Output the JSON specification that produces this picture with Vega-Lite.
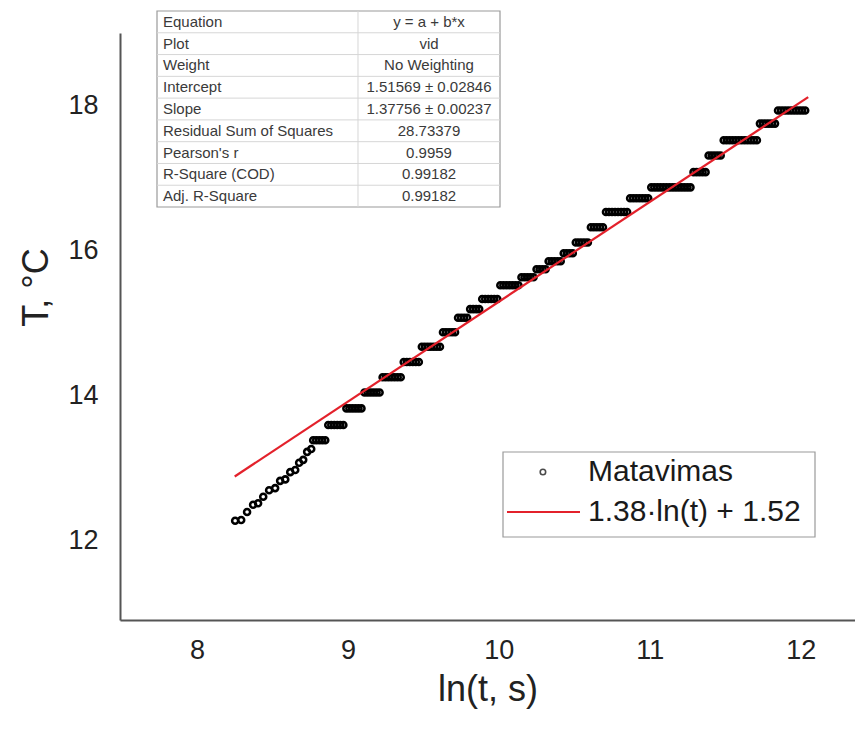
{
  "$schema": "https://vega.github.io/schema/vega-lite/v6.json",
  "width": 735,
  "height": 587,
  "autosize": {"type": "none"},
  "padding": {"left": 120, "top": 33, "right": 0, "bottom": 111},
  "background": "white",
  "config": {
    "font": "Liberation Sans",
    "view": {"stroke": null}
  },
  "datasets": {
    "meas": [
      {"lnt": 8.253, "T": 12.27}, {"lnt": 8.293, "T": 12.28}, {"lnt": 8.332, "T": 12.39}, {"lnt": 8.372, "T": 12.49},
      {"lnt": 8.405, "T": 12.51}, {"lnt": 8.439, "T": 12.60}, {"lnt": 8.478, "T": 12.69}, {"lnt": 8.518, "T": 12.72},
      {"lnt": 8.551, "T": 12.82}, {"lnt": 8.585, "T": 12.84}, {"lnt": 8.618, "T": 12.94}, {"lnt": 8.651, "T": 12.97},
      {"lnt": 8.677, "T": 13.07}, {"lnt": 8.704, "T": 13.11}, {"lnt": 8.730, "T": 13.22}, {"lnt": 8.757, "T": 13.26},
      {"lnt": 8.77, "T": 13.38}, {"lnt": 8.79, "T": 13.38}, {"lnt": 8.81, "T": 13.38}, {"lnt": 8.83, "T": 13.38}, {"lnt": 8.85, "T": 13.38},
      {"lnt": 8.87, "T": 13.59}, {"lnt": 8.89, "T": 13.59}, {"lnt": 8.91, "T": 13.59}, {"lnt": 8.93, "T": 13.59}, {"lnt": 8.95, "T": 13.59}, {"lnt": 8.97, "T": 13.59},
      {"lnt": 8.99, "T": 13.82}, {"lnt": 9.01, "T": 13.82}, {"lnt": 9.03, "T": 13.82}, {"lnt": 9.05, "T": 13.82}, {"lnt": 9.07, "T": 13.82}, {"lnt": 9.09, "T": 13.82},
      {"lnt": 9.11, "T": 14.04}, {"lnt": 9.13, "T": 14.04}, {"lnt": 9.15, "T": 14.04}, {"lnt": 9.17, "T": 14.04}, {"lnt": 9.19, "T": 14.04}, {"lnt": 9.21, "T": 14.04},
      {"lnt": 9.23, "T": 14.25}, {"lnt": 9.25, "T": 14.25}, {"lnt": 9.27, "T": 14.25}, {"lnt": 9.29, "T": 14.25}, {"lnt": 9.31, "T": 14.25}, {"lnt": 9.33, "T": 14.25}, {"lnt": 9.35, "T": 14.25},
      {"lnt": 9.37, "T": 14.46}, {"lnt": 9.39, "T": 14.46}, {"lnt": 9.41, "T": 14.46}, {"lnt": 9.43, "T": 14.46}, {"lnt": 9.45, "T": 14.46}, {"lnt": 9.47, "T": 14.46},
      {"lnt": 9.49, "T": 14.67}, {"lnt": 9.51, "T": 14.67}, {"lnt": 9.53, "T": 14.67}, {"lnt": 9.55, "T": 14.67}, {"lnt": 9.57, "T": 14.67}, {"lnt": 9.59, "T": 14.67}, {"lnt": 9.61, "T": 14.67},
      {"lnt": 9.63, "T": 14.87}, {"lnt": 9.65, "T": 14.87}, {"lnt": 9.67, "T": 14.87}, {"lnt": 9.69, "T": 14.87}, {"lnt": 9.71, "T": 14.87},
      {"lnt": 9.73, "T": 15.07}, {"lnt": 9.75, "T": 15.07}, {"lnt": 9.77, "T": 15.07}, {"lnt": 9.79, "T": 15.07},
      {"lnt": 9.81, "T": 15.19}, {"lnt": 9.83, "T": 15.19}, {"lnt": 9.85, "T": 15.19}, {"lnt": 9.87, "T": 15.19},
      {"lnt": 9.89, "T": 15.33}, {"lnt": 9.91, "T": 15.33}, {"lnt": 9.93, "T": 15.33}, {"lnt": 9.95, "T": 15.33}, {"lnt": 9.97, "T": 15.33}, {"lnt": 9.99, "T": 15.33},
      {"lnt": 10.01, "T": 15.52}, {"lnt": 10.03, "T": 15.52}, {"lnt": 10.05, "T": 15.52}, {"lnt": 10.07, "T": 15.52}, {"lnt": 10.09, "T": 15.52}, {"lnt": 10.11, "T": 15.52}, {"lnt": 10.13, "T": 15.52},
      {"lnt": 10.15, "T": 15.63}, {"lnt": 10.17, "T": 15.63}, {"lnt": 10.19, "T": 15.63}, {"lnt": 10.21, "T": 15.63}, {"lnt": 10.23, "T": 15.63},
      {"lnt": 10.25, "T": 15.74}, {"lnt": 10.27, "T": 15.74}, {"lnt": 10.29, "T": 15.74}, {"lnt": 10.31, "T": 15.74},
      {"lnt": 10.33, "T": 15.85}, {"lnt": 10.35, "T": 15.85}, {"lnt": 10.37, "T": 15.85}, {"lnt": 10.39, "T": 15.85}, {"lnt": 10.41, "T": 15.85},
      {"lnt": 10.43, "T": 15.96}, {"lnt": 10.45, "T": 15.96}, {"lnt": 10.47, "T": 15.96}, {"lnt": 10.49, "T": 15.96},
      {"lnt": 10.51, "T": 16.11}, {"lnt": 10.53, "T": 16.11}, {"lnt": 10.55, "T": 16.11}, {"lnt": 10.57, "T": 16.11}, {"lnt": 10.59, "T": 16.11},
      {"lnt": 10.61, "T": 16.32}, {"lnt": 10.63, "T": 16.32}, {"lnt": 10.65, "T": 16.32}, {"lnt": 10.67, "T": 16.32}, {"lnt": 10.69, "T": 16.32},
      {"lnt": 10.71, "T": 16.53}, {"lnt": 10.73, "T": 16.53}, {"lnt": 10.75, "T": 16.53}, {"lnt": 10.77, "T": 16.53}, {"lnt": 10.79, "T": 16.53}, {"lnt": 10.81, "T": 16.53}, {"lnt": 10.83, "T": 16.53}, {"lnt": 10.85, "T": 16.53},
      {"lnt": 10.87, "T": 16.72}, {"lnt": 10.89, "T": 16.72}, {"lnt": 10.91, "T": 16.72}, {"lnt": 10.93, "T": 16.72}, {"lnt": 10.95, "T": 16.72}, {"lnt": 10.97, "T": 16.72}, {"lnt": 10.99, "T": 16.72},
      {"lnt": 11.01, "T": 16.87}, {"lnt": 11.03, "T": 16.87}, {"lnt": 11.05, "T": 16.87}, {"lnt": 11.07, "T": 16.87}, {"lnt": 11.09, "T": 16.87}, {"lnt": 11.11, "T": 16.87}, {"lnt": 11.13, "T": 16.87},
      {"lnt": 11.15, "T": 16.87}, {"lnt": 11.17, "T": 16.87}, {"lnt": 11.19, "T": 16.87}, {"lnt": 11.21, "T": 16.87}, {"lnt": 11.23, "T": 16.87}, {"lnt": 11.25, "T": 16.87}, {"lnt": 11.27, "T": 16.87},
      {"lnt": 11.29, "T": 17.08}, {"lnt": 11.31, "T": 17.08}, {"lnt": 11.33, "T": 17.08}, {"lnt": 11.35, "T": 17.08}, {"lnt": 11.37, "T": 17.08},
      {"lnt": 11.39, "T": 17.31}, {"lnt": 11.41, "T": 17.31}, {"lnt": 11.43, "T": 17.31}, {"lnt": 11.45, "T": 17.31}, {"lnt": 11.47, "T": 17.31},
      {"lnt": 11.49, "T": 17.52}, {"lnt": 11.51, "T": 17.52}, {"lnt": 11.53, "T": 17.52}, {"lnt": 11.55, "T": 17.52}, {"lnt": 11.57, "T": 17.52}, {"lnt": 11.59, "T": 17.52},
      {"lnt": 11.61, "T": 17.52}, {"lnt": 11.63, "T": 17.52}, {"lnt": 11.65, "T": 17.52}, {"lnt": 11.67, "T": 17.52}, {"lnt": 11.69, "T": 17.52}, {"lnt": 11.71, "T": 17.52},
      {"lnt": 11.73, "T": 17.75}, {"lnt": 11.75, "T": 17.75}, {"lnt": 11.77, "T": 17.75}, {"lnt": 11.79, "T": 17.75}, {"lnt": 11.81, "T": 17.75}, {"lnt": 11.83, "T": 17.75},
      {"lnt": 11.85, "T": 17.93}, {"lnt": 11.87, "T": 17.93}, {"lnt": 11.89, "T": 17.93}, {"lnt": 11.91, "T": 17.93}, {"lnt": 11.93, "T": 17.93},
      {"lnt": 11.95, "T": 17.93}, {"lnt": 11.97, "T": 17.93}, {"lnt": 11.99, "T": 17.93}, {"lnt": 12.01, "T": 17.93}, {"lnt": 12.03, "T": 17.93}
    ],
    "fit": [
      {"lnt": 8.25, "T": 12.8806},
      {"lnt": 12.05, "T": 18.1153}
    ],
    "table": [
      {"row": 1, "name": "Equation", "value": "y = a + b*x"},
      {"row": 2, "name": "Plot", "value": "vid"},
      {"row": 3, "name": "Weight", "value": "No Weighting"},
      {"row": 4, "name": "Intercept", "value": "1.51569 ± 0.02846"},
      {"row": 5, "name": "Slope", "value": "1.37756 ± 0.00237"},
      {"row": 6, "name": "Residual Sum of Squares", "value": "28.73379"},
      {"row": 7, "name": "Pearson's r", "value": "0.9959"},
      {"row": 8, "name": "R-Square (COD)", "value": "0.99182"},
      {"row": 9, "name": "Adj. R-Square", "value": "0.99182"}
    ],
    "legend": [
      {"row": 1, "label": "Matavimas"},
      {"row": 2, "label": "1.38·ln(t) + 1.52"}
    ]
  },
  "layer": [
    {
      "encoding": {
        "x": {
          "field": "lnt",
          "type": "quantitative",
          "scale": {"domain": [7.49, 12.36], "nice": false, "zero": false},
          "axis": {
            "title": "ln(t, s)",
            "values": [8, 9, 10, 11, 12],
            "ticks": false,
            "grid": false,
            "domainColor": "#555555",
            "domainWidth": 2,
            "labelFontSize": 27,
            "labelColor": "#222222",
            "labelPadding": 17,
            "titleFontSize": 36,
            "titleFontWeight": "normal",
            "titleColor": "#222222",
            "titlePadding": 9
          }
        },
        "y": {
          "field": "T",
          "type": "quantitative",
          "scale": {"domain": [10.9, 19.0], "nice": false, "zero": false},
          "axis": {
            "title": "T, °C",
            "values": [12, 14, 16, 18],
            "ticks": false,
            "grid": false,
            "domainColor": "#555555",
            "domainWidth": 2,
            "labelFontSize": 27,
            "labelColor": "#222222",
            "labelPadding": 22,
            "titleFontSize": 36,
            "titleFontWeight": "normal",
            "titleColor": "#222222",
            "titlePadding": 12,
            "titleY": 254
          }
        }
      },
      "layer": [
        {
          "data": {"name": "meas"},
          "mark": {"type": "point", "shape": "circle", "filled": false, "size": 36, "stroke": "#000000", "strokeWidth": 2.6, "opacity": 1}
        },
        {
          "data": {"name": "fit"},
          "mark": {"type": "line", "stroke": "#e3212b", "strokeWidth": 2.2}
        }
      ]
    },
    {
      "layer": [
        {
          "data": {"values": [{"box": 1}]},
          "mark": {"type": "rect", "fill": "white", "stroke": "#9a9a9a", "strokeWidth": 1.2},
          "encoding": {
            "x": {"datum": 0, "type": "quantitative", "scale": {"domain": [0, 1], "range": [37, 380]}, "axis": null},
            "x2": {"datum": 1},
            "y": {"datum": 0.5, "type": "quantitative", "scale": {"domain": [0.5, 9.5], "range": [-22, 174]}, "axis": null},
            "y2": {"datum": 9.5}
          }
        },
        {
          "data": {"name": "table"},
          "transform": [{"filter": "datum.row < 9"}],
          "mark": {"type": "rule", "stroke": "#d6d6d6", "strokeWidth": 1, "yOffset": 10.9},
          "encoding": {
            "x": {"datum": 0, "type": "quantitative", "scale": {"domain": [0, 1], "range": [37, 380]}, "axis": null},
            "x2": {"datum": 1},
            "y": {"field": "row", "type": "quantitative", "scale": {"domain": [0.5, 9.5], "range": [-22, 174]}, "axis": null}
          }
        },
        {
          "data": {"values": [{"box": 1}]},
          "mark": {"type": "rule", "stroke": "#d6d6d6", "strokeWidth": 1},
          "encoding": {
            "x": {"datum": 0.586, "type": "quantitative", "scale": {"domain": [0, 1], "range": [37, 380]}, "axis": null},
            "y": {"datum": 0.5, "type": "quantitative", "scale": {"domain": [0.5, 9.5], "range": [-22, 174]}, "axis": null},
            "y2": {"datum": 9.5}
          }
        },
        {
          "data": {"name": "table"},
          "mark": {"type": "text", "align": "left", "baseline": "middle", "fontSize": 15, "fill": "#3a3a3a", "font": "Liberation Sans"},
          "encoding": {
            "x": {"datum": 0.0175, "type": "quantitative", "scale": {"domain": [0, 1], "range": [37, 380]}, "axis": null},
            "y": {"field": "row", "type": "quantitative", "scale": {"domain": [0.5, 9.5], "range": [-22, 174]}, "axis": null},
            "text": {"field": "name"}
          }
        },
        {
          "data": {"name": "table"},
          "mark": {"type": "text", "align": "center", "baseline": "middle", "fontSize": 15, "fill": "#3a3a3a", "font": "Liberation Sans"},
          "encoding": {
            "x": {"datum": 0.793, "type": "quantitative", "scale": {"domain": [0, 1], "range": [37, 380]}, "axis": null},
            "y": {"field": "row", "type": "quantitative", "scale": {"domain": [0.5, 9.5], "range": [-22, 174]}, "axis": null},
            "text": {"field": "value"}
          }
        }
      ]
    },
    {
      "layer": [
        {
          "data": {"values": [{"box": 1}]},
          "mark": {"type": "rect", "fill": "white", "stroke": "#9a9a9a", "strokeWidth": 1.2},
          "encoding": {
            "x": {"datum": 0, "type": "quantitative", "scale": {"domain": [0, 1], "range": [383, 695]}, "axis": null},
            "x2": {"datum": 1},
            "y": {"datum": 0.5, "type": "quantitative", "scale": {"domain": [0.5, 2.625], "range": [419, 504]}, "axis": null},
            "y2": {"datum": 2.625}
          }
        },
        {
          "data": {"name": "legend"},
          "transform": [{"filter": "datum.row == 1"}],
          "mark": {"type": "point", "shape": "circle", "filled": false, "size": 30, "stroke": "#000000", "strokeWidth": 1.6},
          "encoding": {
            "x": {"datum": 0.128, "type": "quantitative", "scale": {"domain": [0, 1], "range": [383, 695]}, "axis": null},
            "y": {"field": "row", "type": "quantitative", "scale": {"domain": [0.5, 2.625], "range": [419, 504]}, "axis": null}
          }
        },
        {
          "data": {"name": "legend"},
          "transform": [{"filter": "datum.row == 2"}],
          "mark": {"type": "rule", "stroke": "#e3212b", "strokeWidth": 2.2},
          "encoding": {
            "x": {"datum": 0.0128, "type": "quantitative", "scale": {"domain": [0, 1], "range": [383, 695]}, "axis": null},
            "x2": {"datum": 0.2468},
            "y": {"field": "row", "type": "quantitative", "scale": {"domain": [0.5, 2.625], "range": [419, 504]}, "axis": null}
          }
        },
        {
          "data": {"name": "legend"},
          "mark": {"type": "text", "align": "left", "baseline": "middle", "fontSize": 30, "fill": "#1a1a1a", "font": "Liberation Sans"},
          "encoding": {
            "x": {"datum": 0.2724, "type": "quantitative", "scale": {"domain": [0, 1], "range": [383, 695]}, "axis": null},
            "y": {"field": "row", "type": "quantitative", "scale": {"domain": [0.5, 2.625], "range": [419, 504]}, "axis": null},
            "text": {"field": "label"}
          }
        }
      ]
    }
  ],
  "resolve": {"scale": {"x": "independent", "y": "independent"}}
}
